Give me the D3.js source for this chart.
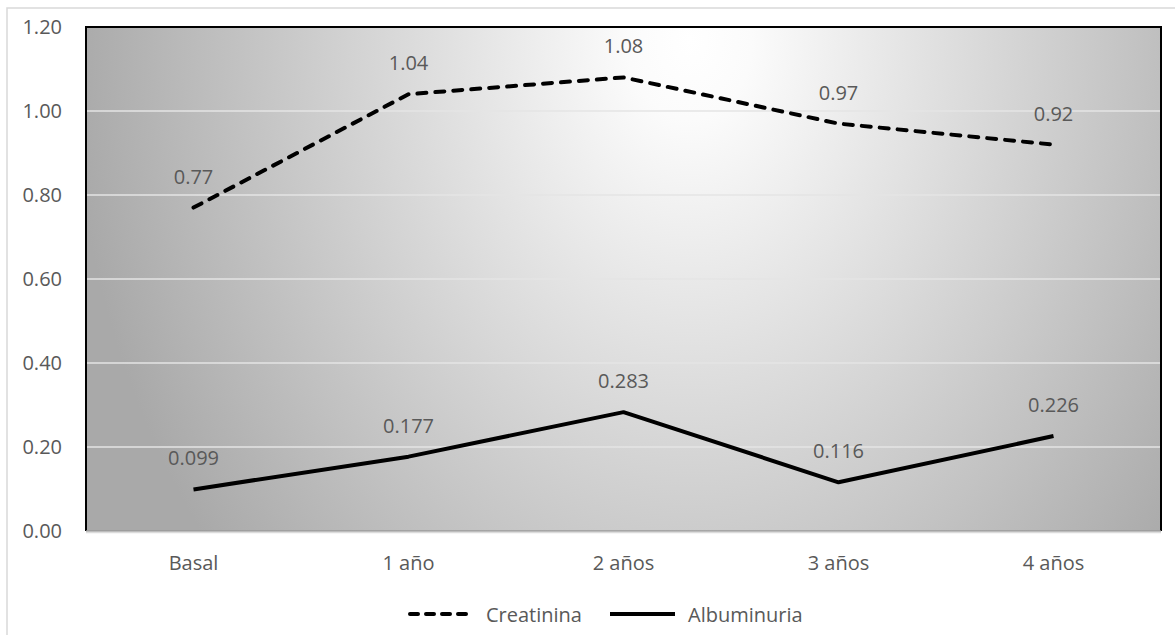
<!DOCTYPE html>
<html>
<head>
<meta charset="utf-8">
<script src="https://cdn.jsdelivr.net/npm/d3@7"></script>
<style>
  html, body { margin: 0; padding: 0; background: #fff; }
  svg { display: block; }
  text { font-family: "Open Sans", "Noto Sans", sans-serif; fill: #595959; }
</style>
</head>
<body>
<svg id="chart" width="1175" height="635"></svg>
<script>
const categories = ["Basal", "1 año", "2 años", "3 años", "4 años"];
const creatinina = [0.77, 1.04, 1.08, 0.97, 0.92];
const albuminuria = [0.099, 0.177, 0.283, 0.116, 0.226];
const creatininaLabels = ["0.77", "1.04", "1.08", "0.97", "0.92"];
const albuminuriaLabels = ["0.099", "0.177", "0.283", "0.116", "0.226"];
const yTicks = [0, 0.2, 0.4, 0.6, 0.8, 1.0, 1.2];
const seriesNames = ["Creatinina", "Albuminuria"];

const svg = d3.select("#chart");
const W = 1175, H = 635;
const plot = { left: 86, right: 1161, top: 27, bottom: 531 };

// outer chart border
svg.append("rect").attr("x", 7).attr("y", 8).attr("width", W + 10).attr("height", H + 10)
  .attr("fill", "#fff").attr("stroke", "#d9d9d9").attr("stroke-width", 1.5);

const x = d3.scaleBand().domain(categories).range([plot.left, plot.right]).padding(0);
const y = d3.scaleLinear().domain([0, 1.2]).range([plot.bottom, plot.top]);
const cx = d => x(d) + x.bandwidth() / 2;

// background gradient
const defs = svg.append("defs");
const grad = defs.append("radialGradient").attr("id", "bg")
  .attr("gradientUnits", "userSpaceOnUse")
  .attr("cx", 0).attr("cy", 0).attr("r", 1)
  .attr("gradientTransform", "translate(690,40) scale(620,800)");
grad.append("stop").attr("offset", 0).attr("stop-color", "#ffffff");
grad.append("stop").attr("offset", 0.1).attr("stop-color", "#fbfbfb");
grad.append("stop").attr("offset", 1).attr("stop-color", "#a9a9a9");

svg.append("rect").attr("x", plot.left).attr("y", plot.top)
  .attr("width", plot.right - plot.left).attr("height", plot.bottom - plot.top)
  .attr("fill", "url(#bg)");

// gridlines
svg.append("g").selectAll("line").data(yTicks.filter(t => t > 0 && t < 1.2)).join("line")
  .attr("x1", plot.left).attr("x2", plot.right)
  .attr("y1", d => y(d)).attr("y2", d => y(d))
  .attr("stroke", "#e4e4e4").attr("stroke-width", 1.5);

// plot border: black left/top/right, gray bottom
svg.append("path")
  .attr("d", `M${plot.left},${plot.bottom} V${plot.top} H${plot.right} V${plot.bottom}`)
  .attr("fill", "none").attr("stroke", "#000").attr("stroke-width", 2);
svg.append("line").attr("x1", plot.left).attr("x2", plot.right)
  .attr("y1", plot.bottom).attr("y2", plot.bottom)
  .attr("stroke", "#9a9a9a").attr("stroke-width", 1.5);
svg.append("line").attr("x1", plot.left).attr("x2", plot.right)
  .attr("y1", plot.bottom + 1.5).attr("y2", plot.bottom + 1.5)
  .attr("stroke", "#dcdcdc").attr("stroke-width", 1.5);

// y axis
const yAxis = svg.append("g").attr("transform", `translate(${plot.left},0)`)
  .call(d3.axisLeft(y).tickValues(yTicks).tickFormat(d3.format(".2f")).tickSize(0).tickPadding(24));
yAxis.select(".domain").remove();
yAxis.selectAll("text").attr("font-size", 20).attr("font-family", "Open Sans").attr("fill", "#595959");

// x axis
const xAxis = svg.append("g").attr("transform", `translate(0,${plot.bottom})`)
  .call(d3.axisBottom(x).tickSize(0).tickPadding(25));
xAxis.select(".domain").remove();
xAxis.selectAll("text").attr("font-size", 20).attr("font-family", "Open Sans").attr("fill", "#595959");

// lines
const line = d3.line().x((d, i) => cx(categories[i])).y(d => y(d));
svg.append("path").datum(creatinina).attr("d", line)
  .attr("fill", "none").attr("stroke", "#000").attr("stroke-width", 4)
  .attr("stroke-linecap", "round").attr("stroke-dasharray", "9,9");
svg.append("path").datum(albuminuria).attr("d", line)
  .attr("fill", "none").attr("stroke", "#000").attr("stroke-width", 4)
  .attr("stroke-linejoin", "round");

// data labels
function labels(vals, txt) {
  svg.append("g").selectAll("text").data(vals).join("text")
    .attr("x", (d, i) => cx(categories[i]))
    .attr("y", d => y(d) - 24)
    .attr("text-anchor", "middle").attr("font-size", 20)
    .text((d, i) => txt[i]);
}
labels(creatinina, creatininaLabels);
labels(albuminuria, albuminuriaLabels);

// legend
const lg = svg.append("g");
lg.append("line").attr("x1", 410).attr("x2", 468).attr("y1", 614).attr("y2", 614)
  .attr("stroke", "#000").attr("stroke-width", 4).attr("stroke-linecap", "round").attr("stroke-dasharray", "8,8");
lg.append("text").attr("x", 486).attr("y", 622).attr("font-size", 20).text(seriesNames[0]);
lg.append("line").attr("x1", 610).attr("x2", 675).attr("y1", 614).attr("y2", 614)
  .attr("stroke", "#000").attr("stroke-width", 4);
lg.append("text").attr("x", 688).attr("y", 622).attr("font-size", 20).text(seriesNames[1]);
</script>
</body>
</html>
